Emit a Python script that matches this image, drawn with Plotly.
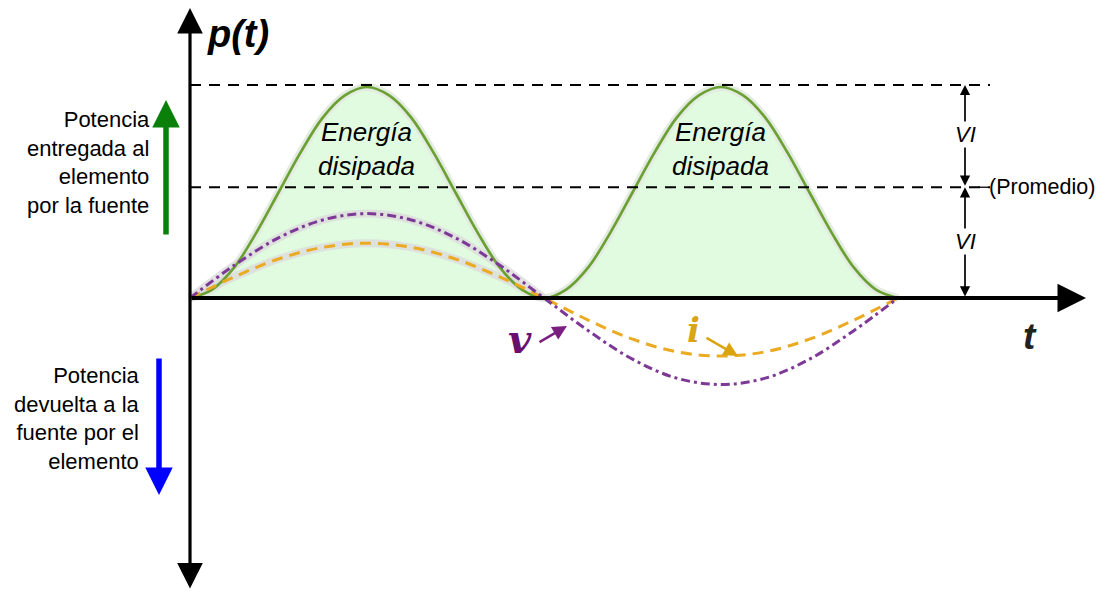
import plotly.graph_objects as go

# ---- data (t in units of half-period of v; p, v, i in units of VI) ----
t_p = [k / 16 for k in range(33)]
p_vals = [0.0, 0.08, 0.29, 0.62, 1.0, 1.38, 1.71, 1.92, 2.0, 1.92, 1.71, 1.38, 1.0, 0.62, 0.29, 0.08,
          0.0, 0.08, 0.29, 0.62, 1.0, 1.38, 1.71, 1.92, 2.0, 1.92, 1.71, 1.38, 1.0, 0.62, 0.29, 0.08, 0.0]
t_vi = [k / 8 for k in range(17)]
v_vals = [0.0, 0.31, 0.57, 0.74, 0.80, 0.74, 0.57, 0.31, 0.0, -0.31, -0.58, -0.76, -0.82, -0.76, -0.58, -0.31, 0.0]
i_vals = [0.0, 0.20, 0.37, 0.48, 0.52, 0.48, 0.37, 0.20, 0.0, -0.21, -0.39, -0.51, -0.55, -0.51, -0.39, -0.21, 0.0]
peak_level = 2.02
avg_level = 1.05

W, H = 1106, 592
OFF = 8  # default body margin of the page
FW, FH = W - OFF, H - OFF
X0, Y0, SX, SY = 190, 298, 354.0, 105.5
def X(px):
    return (px - X0) / SX
def Y(py):
    return (Y0 - py) / SY

GREEN_LINE = "#6ba133"
PURPLE = "#7d3996"
ORANGE = "#eaaa22"
FONT = "Liberation Sans, Arial, sans-serif"

fig = go.Figure()

fig.add_trace(go.Scatter(x=t_p, y=p_vals, mode="lines", line=dict(color="rgba(0,0,0,0)", shape="spline"),
                         fill="tozeroy", fillcolor="#e0fbe0", hoverinfo="skip"))
fig.add_trace(go.Scatter(x=t_p, y=p_vals, mode="lines", line=dict(color="#e4ece2", width=8, shape="spline"),
                         hoverinfo="skip"))
half = 9
fig.add_trace(go.Scatter(x=t_vi[:half], y=v_vals[:half], mode="lines",
                         line=dict(color="rgba(220,220,220,0.8)", width=8, shape="spline"), hoverinfo="skip"))
fig.add_trace(go.Scatter(x=t_vi[:half], y=i_vals[:half], mode="lines",
                         line=dict(color="rgba(220,220,220,0.8)", width=8, shape="spline"), hoverinfo="skip"))
fig.add_trace(go.Scatter(x=t_p, y=p_vals, mode="lines", line=dict(color=GREEN_LINE, width=2.7, shape="spline"),
                         hoverinfo="skip"))
fig.add_trace(go.Scatter(x=t_vi, y=i_vals, mode="lines",
                         line=dict(color=ORANGE, width=3, dash="11px,7px", shape="spline"), hoverinfo="skip"))
fig.add_trace(go.Scatter(x=t_vi, y=v_vals, mode="lines",
                         line=dict(color=PURPLE, width=3, dash="9px,4px,3px,4px", shape="spline"), hoverinfo="skip"))

shapes = []
for lvl in (peak_level, avg_level):
    shapes.append(dict(type="line", xref="x", yref="y", x0=0, x1=X(990), y0=lvl, y1=lvl,
                       line=dict(color="black", width=2, dash="11px,8px")))
shapes.append(dict(type="line", xref="x", yref="y", x0=X(978), x1=X(988), y0=avg_level, y1=avg_level,
                   line=dict(color="black", width=1.3)))

ann = []
def arrow(x_tip, y_tip, x_tail, y_tail, color, width, size, head=2, both=False):
    ann.append(dict(x=x_tip, y=y_tip, ax=x_tail, ay=y_tail, xref="x", yref="y", axref="x", ayref="y",
                    showarrow=True, arrowhead=head, arrowsize=size, arrowwidth=width, arrowcolor=color,
                    arrowside="end+start" if both else "end", startarrowhead=head, startarrowsize=size, text=""))

arrow(0, Y(8), 0, Y(590), "black", 3.2, 1.6, head=2, both=True)
arrow(X(1086), 0, 0, 0, "black", 3.8, 1.5, head=2)
arrow(X(965), peak_level, X(965), avg_level, "black", 1.7, 1.2, head=2, both=True)
arrow(X(965), avg_level, X(965), 0, "black", 1.7, 1.2, head=2, both=True)
arrow(X(166), Y(100), X(166), Y(236), "#0a800a", 5.5, 1.0, head=2)
arrow(X(159), Y(495), X(159), Y(357), "#0000ff", 5.5, 1.0, head=2)
arrow(X(567), Y(326), X(538), Y(343), "#7a1f80", 2.4, 1.2, head=2)
arrow(X(738), Y(356), X(705), Y(337), "#d9a40e", 2.4, 1.2, head=2)

def text(x, y, s, size, color="black", bold=False, italic=False, xanchor="center", align="center",
         bg=None, family=FONT):
    if bold:
        s = "<b>" + s + "</b>"
    if italic:
        s = "<i>" + s + "</i>"
    d = dict(x=x, y=y, xref="x", yref="y", text=s, showarrow=False, xanchor=xanchor, yanchor="middle",
             align=align, font=dict(size=size, color=color, family=family), borderpad=0)
    if bg:
        d["bgcolor"] = bg
    ann.append(d)

text(X(238), Y(34), "p(t)", 38, bold=True, italic=True)
text(X(1030), Y(336), "t", 37, color="#222", bold=True, italic=True)
text(X(965), Y(134), "VI", 22, italic=True, bg="white")
text(X(965), Y(241), "VI", 22, italic=True, bg="white")
text(X(988), Y(187), "(Promedio)", 21.5, xanchor="left")
for cx in (366, 720):
    text(X(cx), Y(149), "Energía<br>disipada", 26, italic=True)
text(X(151), Y(162), "Potencia<br>entregada al<br>elemento<br>por la fuente", 22, xanchor="right", align="right")
text(X(141), Y(418), "Potencia<br>devuelta a la<br>fuente por el<br>elemento", 22, xanchor="right", align="right")
text(X(520), Y(338), "v", 40, color="#6a0f6e", bold=True, italic=True, family="DejaVu Serif, serif")
text(X(693), Y(330), "i", 34, color="#d8a418", bold=True, italic=True, family="DejaVu Serif, serif")

fig.update_layout(
    width=FW, height=FH, autosize=False,
    margin=dict(l=0, r=0, t=0, b=0),
    paper_bgcolor="white", plot_bgcolor="white",
    showlegend=False,
    xaxis=dict(range=[X(OFF), X(OFF + FW)], visible=False, fixedrange=True),
    yaxis=dict(range=[Y(OFF + FH), Y(OFF)], visible=False, fixedrange=True),
    shapes=shapes, annotations=ann,
)
fig.write_html("out.html", config={"displayModeBar": False})
